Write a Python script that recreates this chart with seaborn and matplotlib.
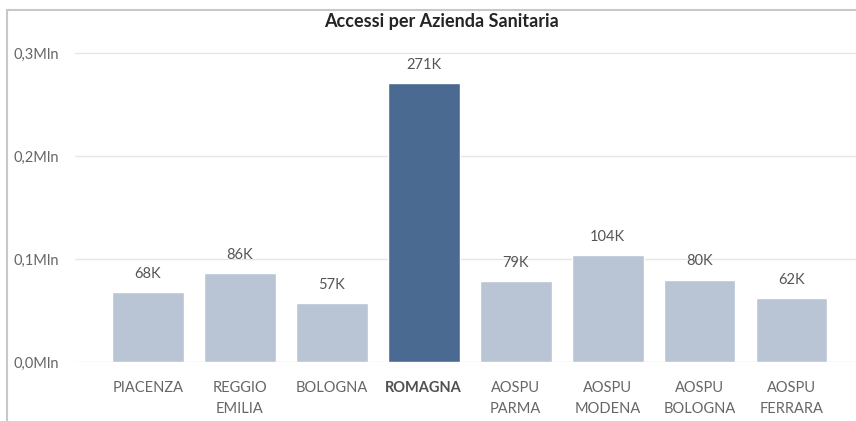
import matplotlib
matplotlib.use("Agg")
import matplotlib.pyplot as plt
from matplotlib.lines import Line2D
import seaborn as sns
import pandas as pd

# Dati
aziende = ["PIACENZA", "REGGIO\nEMILIA", "BOLOGNA", "ROMAGNA", "AOSPU\nPARMA",
           "AOSPU\nMODENA", "AOSPU\nBOLOGNA", "AOSPU\nFERRARA"]
accessi = [68000, 86000, 57000, 271000, 79000, 104000, 80000, 62000]
etichette = ["68K", "86K", "57K", "271K", "79K", "104K", "80K", "62K"]
evidenziata = "ROMAGNA"
yticks = [0, 100000, 200000, 300000]
ytick_labels = ["0,0Mln", "0,1Mln", "0,2Mln", "0,3Mln"]

light = "#B9C5D5"
dark = "#4A6A91"

sns.set_theme(style="white")
plt.rcParams['font.family'] = ['Lato', 'DejaVu Sans']

df = pd.DataFrame({"Azienda": aziende, "Accessi": accessi})
palette = {a: (dark if a == evidenziata else light) for a in aziende}

fig = plt.figure(figsize=(8.56, 4.21), dpi=100)
ymax = 305000
top_px = 53 - (ymax - 300000) / 100000 * 103
ax = fig.add_axes([75 / 856, 1 - 362 / 421, 1 - 75 / 856, (362 - top_px) / 421])

sns.barplot(df, x="Azienda", y="Accessi", hue="Azienda", palette=palette,
            legend=False, width=0.78, saturation=1, ax=ax)

ax.set_xlim(-0.79, 7.70)
ax.set_ylim(0, ymax)
ax.set_yticks(yticks)
ax.set_yticklabels(ytick_labels)
ax.yaxis.grid(True, color="#E6E6E6", linewidth=1)
ax.set_axisbelow(True)
for s in ax.spines.values():
    s.set_visible(False)
ax.set_xlabel("")
ax.set_ylabel("")
ax.tick_params(axis="y", length=0, labelsize=10.5, labelcolor="#666666", pad=0)
ax.tick_params(axis="x", length=0, labelsize=10.5, labelcolor="#666666", pad=14)
for lab in ax.get_yticklabels():
    lab.set_horizontalalignment("left")
    lab.set_x(-62 / 781)
for lab in ax.get_xticklabels():
    lab.set_linespacing(1.6)
    if lab.get_text() == evidenziata:
        lab.set_fontweight("bold")
        lab.set_color("#505050")

for cont, lab in zip(ax.containers, etichette):
    ax.bar_label(cont, labels=[lab], padding=8, fontsize=10.5, color="#555555")

fig.text(441 / 856, 1 - 22 / 421, "Accessi per Azienda Sanitaria", ha="center", va="center",
         fontsize=13, fontweight="bold", color="#252423")

# cornice
fig.add_artist(Line2D([7 / 856, 7 / 856], [0, 1 - 10 / 421], color="#C8C8C8", linewidth=1.5))
fig.add_artist(Line2D([7 / 856, 1], [1 - 10 / 421, 1 - 10 / 421], color="#C8C8C8", linewidth=1.5))

fig.savefig("out.png", dpi=100)
